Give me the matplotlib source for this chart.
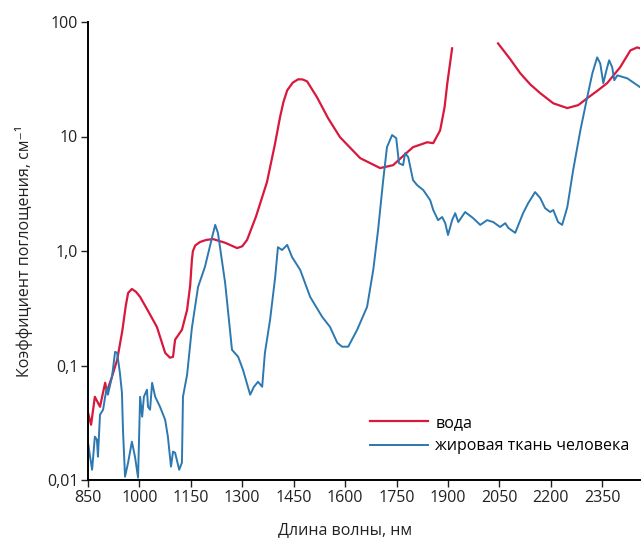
import matplotlib.pyplot as plt
import numpy as np

# вода (два участка, между ними разрыв)
water_wl1 = [850, 859, 870, 885, 900, 905, 920, 935, 950, 960, 967, 978, 990, 1002, 1025,
             1051, 1075, 1089, 1098, 1104, 1124, 1139, 1148, 1153, 1156, 1163, 1177, 1195,
             1215, 1250, 1285, 1300, 1314, 1340, 1372, 1395, 1410, 1420, 1431, 1447, 1463,
             1476, 1489, 1518, 1550, 1585, 1644, 1702, 1740, 1770, 1798, 1839, 1857, 1877,
             1890, 1898, 1912]
water_k1 = [0.0387, 0.0304, 0.0533, 0.0436, 0.0706, 0.059, 0.08, 0.112, 0.2, 0.33, 0.43,
            0.466, 0.44, 0.397, 0.3, 0.217, 0.129, 0.117, 0.119, 0.168, 0.205, 0.306, 0.5,
            0.835, 1.0, 1.12, 1.2, 1.25, 1.27, 1.18, 1.06, 1.1, 1.25, 2.0, 4.0, 8.5, 14.7,
            20.0, 25.3, 29.5, 31.6, 31.5, 30.3, 22.0, 14.5, 9.86, 6.47, 5.3, 5.62, 6.8,
            8.07, 8.9, 8.75, 11.3, 18.0, 29.2, 58.9]
water_wl2 = [2046, 2080, 2111, 2140, 2169, 2207, 2248, 2280, 2306, 2335, 2364, 2402, 2432,
             2452, 2460]
water_k2 = [65.0, 48.0, 35.6, 28.5, 23.9, 19.5, 17.7, 18.8, 21.6, 25.0, 29.2, 40.2, 56.5,
            60.0, 58.9]

# жировая ткань человека
fat_wl = [850, 856, 862, 870, 876, 879, 885, 894, 900, 905, 908, 920, 929, 935, 943, 949,
          952, 958, 967, 978, 987, 996, 1002, 1008, 1013, 1022, 1025, 1031, 1037, 1046,
          1060, 1075, 1083, 1092, 1098, 1104, 1116, 1124, 1127, 1139, 1153, 1171, 1191,
          1212, 1221, 1229, 1250, 1270, 1288, 1302, 1323, 1334, 1346, 1358, 1366, 1381,
          1396, 1404, 1416, 1431, 1445, 1469, 1498, 1533, 1556, 1577, 1591, 1609, 1635,
          1664, 1682, 1696, 1711, 1722, 1737, 1749, 1757, 1769, 1775, 1784, 1798, 1810,
          1828, 1848, 1857, 1871, 1883, 1892, 1900, 1912, 1921, 1930, 1950, 1973, 1994,
          2014, 2032, 2052, 2067, 2076, 2096, 2119, 2134, 2154, 2169, 2183, 2198, 2207,
          2221, 2233, 2248, 2265, 2286, 2306, 2321, 2335, 2344, 2353, 2362, 2370, 2379,
          2385, 2394, 2423, 2460]
fat_k = [0.0212, 0.016, 0.0123, 0.0239, 0.0225, 0.016, 0.0372, 0.0411, 0.0533, 0.064,
         0.0556, 0.0797, 0.1316, 0.129, 0.0864, 0.0578, 0.0275, 0.0107, 0.0142, 0.0216,
         0.016, 0.0105, 0.0533, 0.0357, 0.0533, 0.0614, 0.0436, 0.0411, 0.0706, 0.0533,
         0.0436, 0.0336, 0.0239, 0.0131, 0.0177, 0.0173, 0.0123, 0.0142, 0.0533, 0.083,
         0.213, 0.485, 0.726, 1.32, 1.69, 1.44, 0.526, 0.137, 0.119, 0.0918, 0.0556,
         0.0652, 0.0721, 0.0652, 0.129, 0.25, 0.593, 1.08, 1.02, 1.13, 0.887, 0.683,
         0.397, 0.266, 0.217, 0.158, 0.146, 0.146, 0.205, 0.325, 0.683, 1.52, 4.16, 8.07,
         10.3, 9.67, 5.85, 5.62, 7.15, 6.6, 4.16, 3.76, 3.4, 2.78, 2.28, 1.86, 1.98, 1.75,
         1.38, 1.86, 2.14, 1.79, 2.19, 1.94, 1.69, 1.86, 1.79, 1.62, 1.75, 1.59, 1.44,
         2.14, 2.62, 3.27, 2.9, 2.37, 2.19, 2.28, 1.79, 1.69, 2.42, 5.08, 11.3, 22.0,
         35.6, 49.1, 43.5, 29.2, 37.8, 46.3, 40.2, 31.0, 34.2, 32.2, 27.0]

xticks = [850, 1000, 1150, 1300, 1450, 1600, 1750, 1900, 2050, 2200, 2350]
yticks = [0.01, 0.1, 1.0, 10, 100]
ytick_labels = ["0,01", "0,1", "1,0", "10", "100"]

plt.rcParams['font.family'] = ['Open Sans', 'DejaVu Sans']
fs = 11.5

fig = plt.figure(figsize=(6.43, 5.43), dpi=100)
ax = fig.add_axes([88 / 643, 1 - 480 / 543, 552 / 643, 458 / 543])

red = "#d8183c"
blue = "#2c78b0"

ax.plot(water_wl1, water_k1, color=red, lw=1.6, label="вода", solid_joinstyle="round")
ax.plot(water_wl2, water_k2, color=red, lw=1.6, solid_joinstyle="round")
ax.plot(fat_wl, fat_k, color=blue, lw=1.4, label="жировая ткань человека",
        solid_joinstyle="round")

ax.set_yscale("log")
ax.set_xlim(850, 2460)
ax.set_ylim(0.01, 100)
ax.set_xticks(xticks)
ax.set_yticks(yticks)
ax.set_yticklabels(ytick_labels)
ax.minorticks_off()

for s in ["top", "right"]:
    ax.spines[s].set_visible(False)
for s in ["left", "bottom"]:
    ax.spines[s].set_linewidth(1.4)
ax.tick_params(length=5, width=1, colors="#222222", labelsize=fs, pad=2)

ax.set_xlabel("Длина волны, нм", fontsize=fs, color="#222222")
ax.xaxis.set_label_coords((345 - 88) / 552, -0.092)
ax.set_ylabel("Коэффициент поглощения, см⁻¹", fontsize=fs, color="#222222")
ax.yaxis.set_label_coords(-0.1, 0.5)

ax.legend(frameon=False, loc="upper left", bbox_to_anchor=((370 - 88) / 552, (480 - 415) / 458),
          borderpad=0, borderaxespad=0, handlelength=3.6, handletextpad=0.5,
          labelspacing=0.45, fontsize=fs)

plt.savefig("out.png", dpi=100)
